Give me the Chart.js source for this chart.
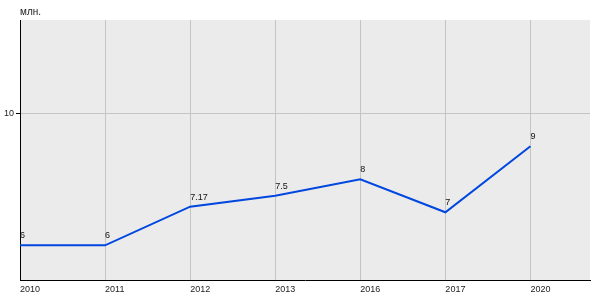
<!DOCTYPE html>
<html>
<head>
<meta charset="utf-8">
<script src="https://cdn.jsdelivr.net/npm/chart.js@4/dist/chart.umd.min.js"></script>
<style>
  body { margin: 0; background: #fff; }
  #wrap { width: 600px; height: 300px; }
</style>
</head>
<body>
<div id="wrap"><canvas id="chart"></canvas></div>
<script>
// chart data
const years = ['2010', '2011', '2012', '2013', '2016', '2017', '2020'];
const values = [6, 6, 7.17, 7.5, 8, 7, 9];
const valueLabels = ['6', '6', '7.17', '7.5', '8', '7', '9'];
const yTicks = [10];
const unitLabel = 'млн.';

const points = values.map((v, i) => ({ x: i, y: v }));
const FONT = 'Arial, "Liberation Sans", sans-serif';

// grey plot background, unit label and value labels
const decor = {
  id: 'decor',
  beforeDraw(chart) {
    const { ctx, chartArea: a } = chart;
    ctx.save();
    ctx.fillStyle = '#ebebeb';
    ctx.fillRect(a.left, a.top, a.right - a.left, a.bottom - a.top);
    ctx.fillStyle = '#222';
    ctx.font = '10px ' + FONT;
    ctx.textBaseline = 'middle';
    ctx.fillText(unitLabel, a.left, 12);
    ctx.restore();
  },
  afterDatasetsDraw(chart) {
    const { ctx } = chart;
    const meta = chart.getDatasetMeta(0);
    ctx.save();
    ctx.fillStyle = '#111';
    ctx.font = '9px ' + FONT;
    ctx.textBaseline = 'bottom';
    ctx.textAlign = 'left';
    meta.data.forEach((pt, i) => {
      ctx.fillText(valueLabels[i], pt.x, pt.y - 5);
    });
    ctx.restore();
  }
};

new Chart(document.getElementById('chart'), {
  type: 'line',
  data: {
    datasets: [{
      data: points,
      borderColor: '#0047e0',
      borderWidth: 2,
      pointRadius: 0,
      tension: 0,
      fill: false
    }]
  },
  options: {
    responsive: true,
    maintainAspectRatio: false,
    animation: false,
    layout: { padding: { top: 20, right: 10, left: 0, bottom: 0 } },
    plugins: { legend: { display: false }, tooltip: { enabled: false } },
    scales: {
      x: {
        type: 'linear',
        min: 0,
        max: 6.7,
        afterBuildTicks: s => { s.ticks = years.map((_, i) => ({ value: i })); },
        afterFit: s => { s.height = 20; },
        ticks: {
          callback: v => years[v],
          align: 'start',
          maxRotation: 0,
          autoSkip: false,
          padding: 4,
          color: '#222',
          font: { family: FONT, size: 9 }
        },
        grid: { color: '#c4c4c4', drawTicks: false },
        border: { color: '#000', width: 1 }
      },
      y: {
        min: 4.95,
        max: 12.82,
        afterBuildTicks: s => { s.ticks = yTicks.map(v => ({ value: v })); },
        afterFit: s => { s.width = 20; },
        ticks: {
          padding: 2,
          color: '#222',
          font: { family: FONT, size: 9 }
        },
        grid: { color: '#c4c4c4', tickLength: 4, tickColor: '#000' },
        border: { color: '#000', width: 1 }
      }
    }
  },
  plugins: [decor]
});
</script>
</body>
</html>
